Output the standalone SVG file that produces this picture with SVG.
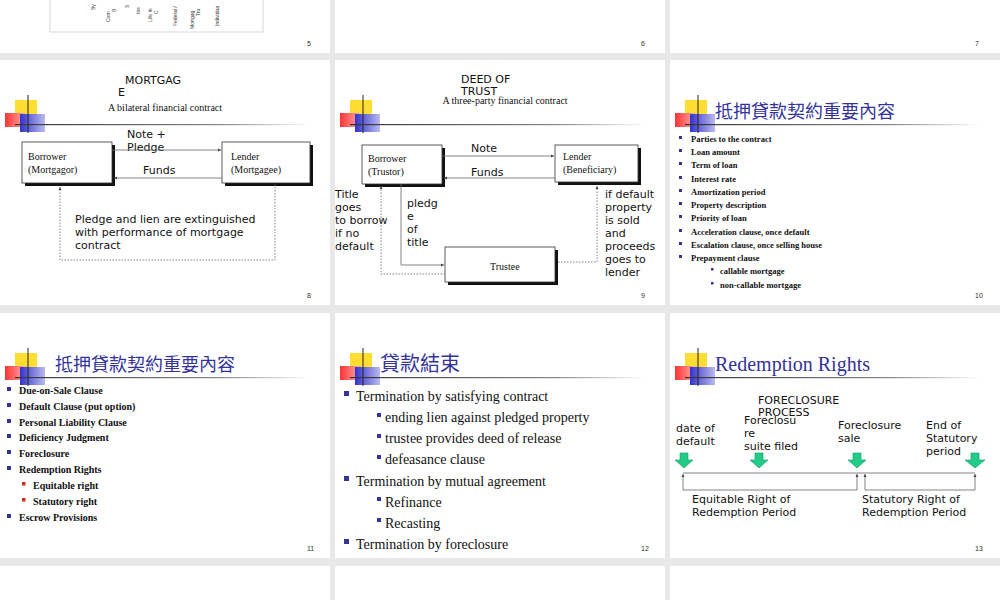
<svg xmlns="http://www.w3.org/2000/svg" width="1000" height="600" viewBox="0 0 1000 600">
<defs>
<style>
.s{font-family:"DejaVu Sans","Liberation Sans",sans-serif;font-size:11px;fill:#111}
.r{font-family:"Liberation Serif",serif;font-size:10px;fill:#111}
.b{font-family:"Liberation Serif",serif;font-size:8.5px;font-weight:bold;fill:#111}
.b2{font-family:"Liberation Serif",serif;font-size:10px;font-weight:bold;fill:#111}
.m{font-family:"Liberation Serif",serif;font-size:14px;fill:#111}
.t{font-family:"Liberation Serif","Noto Sans CJK TC",serif;fill:#333399}
.pg{font-family:"Liberation Sans",sans-serif;font-size:7px;fill:#333}
.tiny{font-family:"Liberation Sans",sans-serif;font-size:5px;fill:#333}
.box{fill:#fff;stroke:#333;stroke-width:0.8}
.sh{fill:#111}
.ln{stroke:#666;stroke-width:0.8;fill:none}
.dt{stroke:#666;stroke-width:0.8;fill:none;stroke-dasharray:1.5,1.5}
.gr{fill:#22cc88;stroke:#119966;stroke-width:0.6}
</style>
<linearGradient id="hl" x1="0" x2="1"><stop offset="0" stop-color="#333"/><stop offset="0.7" stop-color="#888"/><stop offset="1" stop-color="#fff"/></linearGradient>
<linearGradient id="rd" x1="0" x2="1"><stop offset="0" stop-color="#ff3333"/><stop offset="1" stop-color="#ffaaaa"/></linearGradient>
<linearGradient id="bl" x1="0" x2="1"><stop offset="0" stop-color="#3333cc"/><stop offset="1" stop-color="#bbbbee"/></linearGradient>
<marker id="a" markerWidth="5" markerHeight="5" refX="4" refY="2.5" orient="auto"><path d="M0,0.5 L4,2.5 L0,4.5" fill="#444"/></marker>
<g id="logo">
<rect x="15" y="100" width="22" height="18" fill="#ffdd33"/>
<rect x="5" y="113" width="20" height="14" fill="url(#rd)"/>
<rect x="20" y="114" width="25" height="18" fill="url(#bl)"/>
<line x1="28" y1="95" x2="28" y2="133" stroke="#222" stroke-width="1"/>
<rect x="15" y="124" width="295" height="1.2" fill="url(#hl)"/>
</g>
</defs>
<rect width="1000" height="600" fill="#e8e8e8"/>
<g id="slides">
<rect x="0" y="0" width="330" height="53" fill="#fff"/>
<rect x="335" y="0" width="330" height="53" fill="#fff"/>
<rect x="670" y="0" width="330" height="53" fill="#fff"/>
<rect x="0" y="60" width="330" height="245" fill="#fff"/>
<rect x="335" y="60" width="330" height="245" fill="#fff"/>
<rect x="670" y="60" width="330" height="245" fill="#fff"/>
<rect x="0" y="313" width="330" height="245" fill="#fff"/>
<rect x="335" y="313" width="330" height="245" fill="#fff"/>
<rect x="670" y="313" width="330" height="245" fill="#fff"/>
<rect x="0" y="566" width="330" height="34" fill="#fff"/>
<rect x="335" y="566" width="330" height="34" fill="#fff"/>
<rect x="670" y="566" width="330" height="34" fill="#fff"/>
</g>
<g id="slide5">
<rect x="50" y="-1" width="213" height="33" fill="none" stroke="#bbb" stroke-width="0.6"/>
<text class="tiny" transform="translate(95,10) rotate(-90)">By</text>
<text class="tiny" transform="translate(110,22) rotate(-90)">Com</text>
<text class="tiny" transform="translate(116,12) rotate(-90)">B</text>
<text class="tiny" transform="translate(129,8) rotate(-90)">S</text>
<text class="tiny" transform="translate(140,14) rotate(-90)">Ins</text>
<text class="tiny" transform="translate(152,22) rotate(-90)">Life In</text>
<text class="tiny" transform="translate(158,14) rotate(-90)">C</text>
<text class="tiny" transform="translate(177,26) rotate(-90)">Federal /</text>
<text class="tiny" transform="translate(194,29) rotate(-90)">Mortgag</text>
<text class="tiny" transform="translate(200,16) rotate(-90)">Tru</text>
<text class="tiny" transform="translate(219,26) rotate(-90)">Individua</text>
<text class="pg" x="307" y="46">5</text>
<text class="pg" x="641" y="46">6</text>
<text class="pg" x="975" y="46">7</text>
</g>
<g id="slide8">
<use href="#logo"/>
<text class="s" x="125" y="84">MORTGAG</text>
<text class="s" x="118" y="96">E</text>
<text class="r" x="165" y="111" text-anchor="middle">A bilateral financial contract</text>
<g id="borrower8"><rect class="sh" x="25" y="145" width="90" height="41"/><rect class="box" x="22" y="142" width="90" height="41"/>
<text class="r" x="28" y="160">Borrower</text><text class="r" x="28" y="173">(Mortgagor)</text></g>
<g id="lender8"><rect class="sh" x="225" y="145" width="88" height="41"/><rect class="box" x="222" y="142" width="88" height="41"/>
<text class="r" x="231" y="160">Lender</text><text class="r" x="231" y="173">(Mortgagee)</text></g>
<text class="s" x="127" y="138">Note +</text>
<text class="s" x="127" y="151">Pledge</text>
<text class="s" x="143" y="174">Funds</text>
<text class="s" x="75" y="223">Pledge and lien are extinguished</text>
<text class="s" x="75" y="236">with performance of mortgage</text>
<text class="s" x="75" y="249">contract</text>
<text class="pg" x="307" y="298">8</text>
</g>
<g id="slide9">
<use href="#logo" transform="translate(335,0)"/>
<text class="s" x="461" y="83">DEED OF</text>
<text class="s" x="461" y="95">TRUST</text>
<text class="r" x="505" y="104" text-anchor="middle">A three-party financial contract</text>
<g id="borrower9"><rect class="sh" x="365" y="148" width="80" height="39"/><rect class="box" x="362" y="145" width="80" height="39"/>
<text class="r" x="368" y="162">Borrower</text><text class="r" x="368" y="175">(Trustor)</text></g>
<g id="lender9"><rect class="sh" x="558" y="148" width="83" height="37"/><rect class="box" x="555" y="145" width="83" height="37"/>
<text class="r" x="563" y="160">Lender</text><text class="r" x="563" y="173">(Beneficiary)</text></g>
<g id="trustee9"><rect class="sh" x="448" y="250" width="110" height="35"/><rect class="box" x="445" y="247" width="110" height="35"/>
<text class="r" x="490" y="270">Trustee</text></g>
<text class="s" x="471" y="152">Note</text>
<text class="s" x="471" y="176">Funds</text>
<text class="s" x="407" y="207">pledg</text><text class="s" x="407" y="220">e</text><text class="s" x="407" y="233">of</text><text class="s" x="407" y="246">title</text>
<text class="s" x="335" y="198">Title</text><text class="s" x="335" y="211">goes</text><text class="s" x="335" y="224">to borrow</text><text class="s" x="335" y="237">if no</text><text class="s" x="335" y="250">default</text>
<text class="s" x="605" y="198">if default</text><text class="s" x="605" y="211">property</text><text class="s" x="605" y="224">is sold</text><text class="s" x="605" y="237">and</text><text class="s" x="605" y="250">proceeds</text><text class="s" x="605" y="263">goes to</text><text class="s" x="605" y="276">lender</text>
<text class="pg" x="641" y="298">9</text>
</g>
<g id="connectors">
<line class="ln" x1="112" y1="150" x2="221" y2="150" marker-end="url(#a)"/>
<line class="ln" x1="222" y1="178" x2="114" y2="178" marker-end="url(#a)"/>
<path class="dt" d="M275,184 V260 H60 V187" marker-end="url(#a)"/>
<line class="ln" x1="442" y1="156" x2="554" y2="156" marker-end="url(#a)"/>
<line class="ln" x1="555" y1="178" x2="444" y2="178" marker-end="url(#a)"/>
<path class="ln" d="M401,184 V265 H444" marker-end="url(#a)"/>
<path class="dt" d="M445,274 H381 V186" marker-end="url(#a)"/>
<path class="dt" d="M558,262 H597 V186" marker-end="url(#a)"/>
<path class="ln" d="M683,490 V474" marker-end="url(#a)"/>
<path class="ln" d="M683,490 H857 V474" marker-end="url(#a)"/>
<path class="ln" d="M865,490 V474" marker-end="url(#a)"/>
<path class="ln" d="M865,490 H975 V474" marker-end="url(#a)"/>
<line class="ln" x1="683" y1="473" x2="975" y2="473"/>
</g>
<g id="slide10">
<use href="#logo" transform="translate(670,0)"/>
<text class="t" x="715" y="118" font-size="18">抵押貸款契約重要內容</text>
<g fill="#333399">
<rect x="679" y="136" width="3" height="3"/><rect x="679" y="149" width="3" height="3"/><rect x="679" y="162" width="3" height="3"/><rect x="679" y="176" width="3" height="3"/><rect x="679" y="189" width="3" height="3"/><rect x="679" y="202" width="3" height="3"/><rect x="679" y="215" width="3" height="3"/><rect x="679" y="229" width="3" height="3"/><rect x="679" y="242" width="3" height="3"/><rect x="679" y="255" width="3" height="3"/>
<rect x="711" y="268" width="2.5" height="2.5"/><rect x="711" y="282" width="2.5" height="2.5"/></g>
<text class="b" x="691" y="142">Parties to the contract</text>
<text class="b" x="691" y="155">Loan amount</text>
<text class="b" x="691" y="168">Term of loan</text>
<text class="b" x="691" y="182">Interest rate</text>
<text class="b" x="691" y="195">Amortization period</text>
<text class="b" x="691" y="208">Property description</text>
<text class="b" x="691" y="221">Priority of loan</text>
<text class="b" x="691" y="235">Acceleration clause, once default</text>
<text class="b" x="691" y="248">Escalation clause, once selling house</text>
<text class="b" x="691" y="261">Prepayment clause</text>
<text class="b" x="720" y="274">callable mortgage</text>
<text class="b" x="720" y="288">non-callable mortgage</text>
<text class="pg" x="975" y="298">10</text>
</g>
<g id="slide11">
<use href="#logo" transform="translate(0,253)"/>
<text class="t" x="55" y="371" font-size="18">抵押貸款契約重要內容</text>
<g fill="#333399"><rect x="7" y="387" width="4" height="4"/><rect x="7" y="403" width="4" height="4"/><rect x="7" y="419" width="4" height="4"/><rect x="7" y="434" width="4" height="4"/><rect x="7" y="450" width="4" height="4"/><rect x="7" y="466" width="4" height="4"/><rect x="7" y="514" width="4" height="4"/></g>
<g fill="#dd2222"><rect x="22" y="482" width="3.5" height="3.5"/><rect x="22" y="498" width="3.5" height="3.5"/></g>
<text class="b2" x="19" y="394">Due-on-Sale Clause</text>
<text class="b2" x="19" y="410">Default Clause (put option)</text>
<text class="b2" x="19" y="426">Personal Liability Clause</text>
<text class="b2" x="19" y="441">Deficiency Judgment</text>
<text class="b2" x="19" y="457">Foreclosure</text>
<text class="b2" x="19" y="473">Redemption Rights</text>
<text class="b2" x="33" y="489">Equitable right</text>
<text class="b2" x="33" y="505">Statutory right</text>
<text class="b2" x="19" y="521">Escrow Provisions</text>
<text class="pg" x="307" y="551">11</text>
</g>
<g id="slide12">
<use href="#logo" transform="translate(335,253)"/>
<text class="t" x="380" y="371" font-size="20">貸款結束</text>
<g fill="#333399"><rect x="344" y="391" width="5" height="5"/><rect x="344" y="476" width="5" height="5"/><rect x="344" y="539" width="5" height="5"/>
<rect x="377" y="413" width="4" height="4"/><rect x="377" y="434" width="4" height="4"/><rect x="377" y="455" width="4" height="4"/><rect x="377" y="497" width="4" height="4"/><rect x="377" y="518" width="4" height="4"/></g>
<text class="m" x="356" y="401">Termination by satisfying contract</text>
<text class="m" x="385" y="422">ending lien against pledged property</text>
<text class="m" x="385" y="443">trustee provides deed of release</text>
<text class="m" x="385" y="464">defeasance clause</text>
<text class="m" x="356" y="486">Termination by mutual agreement</text>
<text class="m" x="385" y="507">Refinance</text>
<text class="m" x="385" y="528">Recasting</text>
<text class="m" x="356" y="549">Termination by foreclosure</text>
<text class="pg" x="641" y="551">12</text>
</g>
<g id="slide13">
<use href="#logo" transform="translate(670,253)"/>
<text class="t" x="715" y="371" font-size="20">Redemption Rights</text>
<text class="s" x="758" y="404">FORECLOSURE</text>
<text class="s" x="758" y="416">PROCESS</text>
<text class="s" x="676" y="432">date of</text><text class="s" x="676" y="445">default</text>
<text class="s" x="744" y="424">Foreclosu</text><text class="s" x="744" y="437">re</text><text class="s" x="744" y="450">suite filed</text>
<text class="s" x="838" y="429">Foreclosure</text><text class="s" x="838" y="442">sale</text>
<text class="s" x="926" y="429">End of</text><text class="s" x="926" y="442">Statutory</text><text class="s" x="926" y="455">period</text>
<path class="gr" d="M680,453 h8 v7 h5 l-9,8 l-9,-8 h5 z"/>
<path class="gr" d="M755,453 h8 v7 h5 l-9,8 l-9,-8 h5 z"/>
<path class="gr" d="M853,453 h8 v7 h5 l-9,8 l-9,-8 h5 z"/>
<path class="gr" d="M971,453 h8 v7 h6 l-10,8 l-10,-8 h6 z"/>
<text class="s" x="692" y="503">Equitable Right of</text><text class="s" x="692" y="516">Redemption Period</text>
<text class="s" x="862" y="503">Statutory Right of</text><text class="s" x="862" y="516">Redemption Period</text>
<text class="pg" x="975" y="551">13</text>
</g>
</svg>
